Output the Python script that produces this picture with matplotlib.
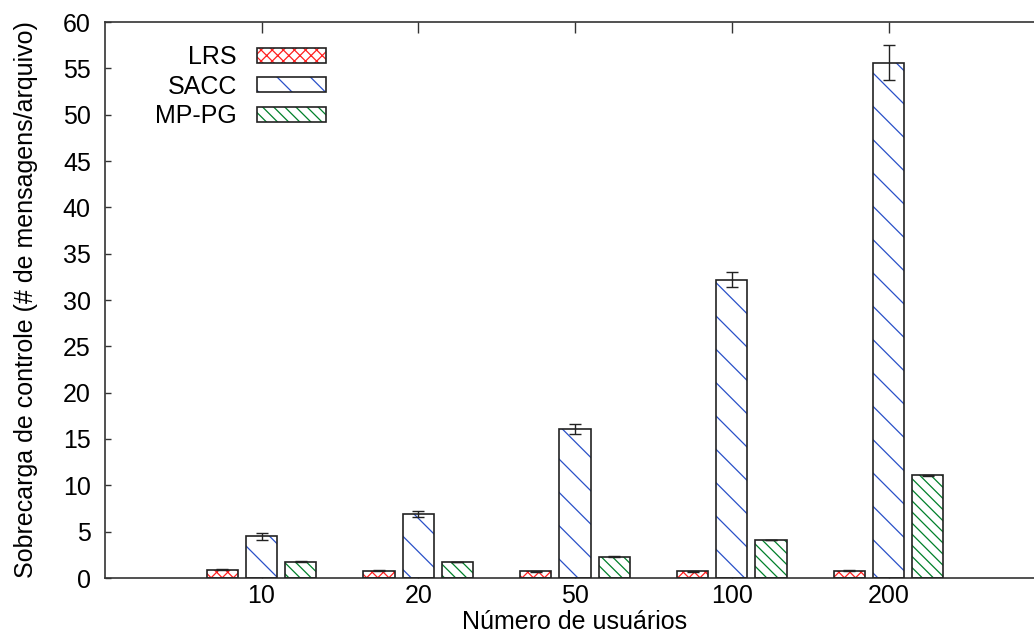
import numpy as np
import matplotlib.pyplot as plt
from matplotlib.patches import Patch
from matplotlib.legend_handler import HandlerTuple

plt.rcParams['font.family'] = ['Liberation Sans', 'DejaVu Sans']
plt.rcParams['hatch.linewidth'] = 0.45

# overhead per file for each number of users
usuarios = ['10', '20', '50', '100', '200']
lrs = [0.9, 0.8, 0.75, 0.75, 0.8]
lrs_err = [0.05, 0.05, 0.05, 0.05, 0.05]
sacc = [4.5, 6.9, 16.1, 32.2, 55.6]
sacc_err = [0.35, 0.3, 0.57, 0.8, 1.9]
mppg = [1.75, 1.73, 2.3, 4.1, 11.1]
mppg_err = [0.05, 0.05, 0.05, 0.05, 0.05]

series = [
    ('LRS', lrs, lrs_err, '#ff2020', 'x' * 6),
    ('SACC', sacc, sacc_err, '#2a50c8', '\\' * 2),
    ('MP-PG', mppg, mppg_err, '#00802a', '\\' * 6),
]

dpi = 200
fig = plt.figure(figsize=(1034 / dpi, 635 / dpi), dpi=dpi)
ax = fig.add_axes([104.75 / 1034, 57 / 635, 940.5 / 1034, 556 / 635])

edge = '#222222'
x = np.arange(len(usuarios))
width = 0.2
handles = []
for k, (name, vals, errs, color, hatch) in enumerate(series):
    pos = x + (k - 1) * 0.25
    # hatch layer in the series colour, outline drawn on top in black
    ax.bar(pos, vals, width, color='white', edgecolor=color, hatch=hatch, linewidth=0, zorder=2)
    ax.bar(pos, vals, width, fill=False, edgecolor=edge, linewidth=0.6, zorder=3)
    ax.errorbar(pos, vals, yerr=errs, fmt='none', ecolor=edge, elinewidth=0.5,
                capsize=2.2, capthick=0.5, zorder=4)
    h1 = Patch(facecolor='white', edgecolor=color, hatch=hatch, linewidth=0)
    h2 = Patch(fill=False, edgecolor=edge, linewidth=0.6)
    handles.append((h1, h2))

ax.set_xlim(-1, 5)
ax.set_ylim(0, 60)
ax.set_yticks(np.arange(0, 61, 5))
ax.set_xticks(x)
ax.set_xticklabels(usuarios)

for s in ax.spines.values():
    s.set_color('#333333')
    s.set_linewidth(0.6)
ax.tick_params(axis='y', direction='in', length=2.3, width=0.5, color='#333333',
               labelsize=9, right=True, pad=5)
ax.tick_params(axis='x', direction='in', length=4, width=0.5, color='#333333',
               labelsize=9, top=True, pad=2)

ax.set_ylabel('Sobrecarga de controle (# de mensagens/arquivo)', fontsize=9, labelpad=9)
ax.set_xlabel('Número de usuários', fontsize=9, labelpad=1)

ax.legend(handles, [s[0] for s in series], handler_map={tuple: HandlerTuple(ndivide=1, pad=0)},
          loc='upper left', bbox_to_anchor=(155 / 1034, 1 - 45 / 635),
          bbox_transform=fig.transFigure, frameon=False, markerfirst=False,
          fontsize=9, handlelength=2.75, handleheight=0.55, handletextpad=0.8,
          labelspacing=0.22, borderpad=0, borderaxespad=0)

fig.savefig('out.png', dpi=dpi)
